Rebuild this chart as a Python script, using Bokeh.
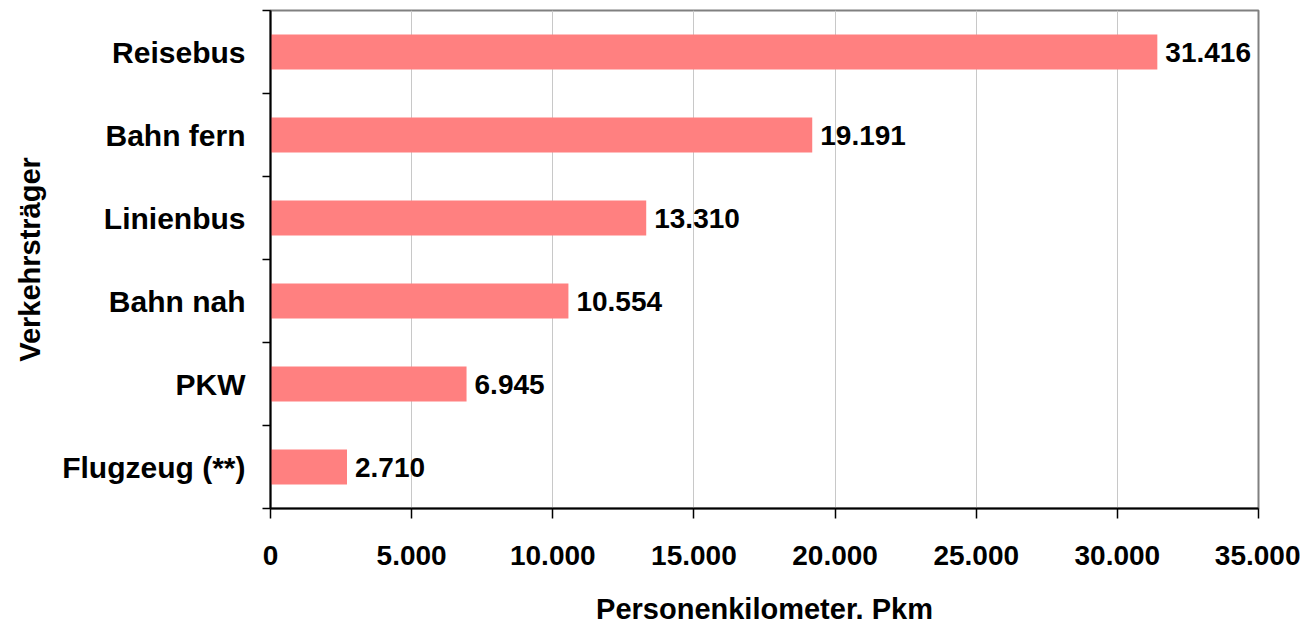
from bokeh.plotting import figure
from bokeh.models import ColumnDataSource, Range1d, FixedTicker, LabelSet
from bokeh.core.properties import value
from bokeh.embed import file_html
from bokeh.resources import INLINE

categories = ["Flugzeug (**)", "PKW", "Bahn nah", "Linienbus", "Bahn fern", "Reisebus"]
values = [2710, 6945, 10554, 13310, 19191, 31416]
x_ticks = [0, 5000, 10000, 15000, 20000, 25000, 30000, 35000]

def de_fmt(v):
    return f"{v:,}".replace(",", ".")

ypos = [i + 0.5 for i in range(len(categories))]
src = ColumnDataSource(dict(y=ypos, v=values, lab=[de_fmt(v) for v in values]))

FONT = "Liberation Sans"

p = figure(width=1300, height=627, output_backend="svg", toolbar_location=None,
           x_range=Range1d(0, 35000), y_range=Range1d(0, len(categories)),
           min_border_left=270, min_border_right=42, min_border_top=10, min_border_bottom=118)

p.hbar(y="y", right="v", left=0, height=0.42, source=src, fill_color="#FF8080", line_color=None)

labels = LabelSet(x="v", y="y", text="lab", source=src, x_offset=8, text_baseline="middle",
                  text_font=value(FONT), text_font_style="bold", text_font_size="28px",
                  text_color="#000000")
p.add_layout(labels)

p.background_fill_color = "white"
p.border_fill_color = "white"
p.outline_line_color = "#808080"
p.outline_line_width = 2

# x axis
xa = p.xaxis[0]
xa.ticker = FixedTicker(ticks=x_ticks)
xa.major_label_overrides = {t: de_fmt(t) for t in x_ticks}
xa.major_label_text_font = FONT
xa.major_label_text_font_style = "bold"
xa.major_label_text_font_size = "28px"
xa.major_label_text_color = "#000000"
xa.major_tick_out = 10
xa.major_tick_in = 0
xa.minor_tick_out = 0
xa.major_label_standoff = 27
xa.axis_line_color = "#000000"
xa.axis_line_width = 2
xa.major_tick_line_color = "#000000"
xa.major_tick_line_width = 1.5
xa.axis_label = "Personenkilometer. Pkm"
xa.axis_label_text_font = FONT
xa.axis_label_text_font_style = "bold"
xa.axis_label_text_font_size = "29px"
xa.axis_label_text_color = "#000000"
xa.axis_label_standoff = 25

# y axis
ya = p.yaxis[0]
ya.ticker = FixedTicker(ticks=ypos, minor_ticks=list(range(len(categories) + 1)))
ya.major_label_overrides = {y: c for y, c in zip(ypos, categories)}
ya.major_label_text_font = FONT
ya.major_label_text_font_style = "bold"
ya.major_label_text_font_size = "30px"
ya.major_label_text_color = "#000000"
ya.major_tick_out = 0
ya.major_tick_in = 0
ya.minor_tick_out = 8
ya.minor_tick_in = 0
ya.minor_tick_line_color = "#000000"
ya.minor_tick_line_width = 1.5
ya.major_label_standoff = 17
ya.axis_line_color = "#000000"
ya.axis_line_width = 2
ya.axis_label = "Verkehrsträger"
ya.axis_label_text_font = FONT
ya.axis_label_text_font_style = "bold"
ya.axis_label_text_font_size = "29px"
ya.axis_label_text_color = "#000000"
ya.axis_label_standoff = 13

p.xgrid.ticker = FixedTicker(ticks=x_ticks)
p.xgrid.grid_line_color = "#C8C8C8"
p.xgrid.grid_line_width = 1
p.ygrid.grid_line_color = None

open("out.html", "w").write(file_html(p, INLINE))
